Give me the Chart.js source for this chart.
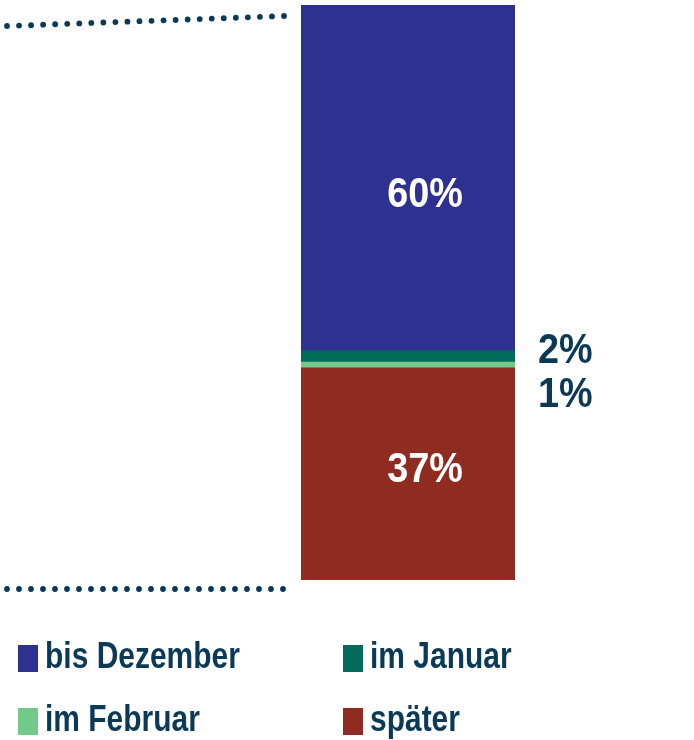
<!DOCTYPE html>
<html lang="de">
<head>
<meta charset="utf-8">
<title>Zeitpunkt</title>
<script src="https://cdn.jsdelivr.net/npm/chart.js@4.4.1/dist/chart.umd.min.js"></script>
<style>
    html, body { margin: 0; padding: 0; background: #ffffff; }
    #wrap { width: 694px; height: 740px; }
</style>
</head>
<body>
<div id="wrap"><canvas id="grafica" width="694" height="740"></canvas></div>
<script>
// Daten
const kategorien = ["Gesamt"];
const serien = ["bis Dezember", "im Januar", "im Februar", "später"];
const werte = [60, 2, 1, 37];
const farben = ["#2E3190", "#006B5B", "#73C98A", "#8F2B20"];

const textFarbe = "#0A3A55";
const schrift = "'Liberation Sans', Arial, sans-serif";
// vertikaler Versatz der Innenbeschriftung je Segment
const innenVersatz = [14, 0, 0, -7];

// Text etwas schmaler zeichnen (wie eine Condensed-Schrift)
function schmalerText(ctx, text, x, y, faktor, ausrichtung) {
    ctx.save();
    let breite = ctx.measureText(text).width * faktor;
    let startX = ausrichtung === "center" ? x - breite / 2 : x;
    ctx.translate(startX, y);
    ctx.scale(faktor, 1);
    ctx.textAlign = "left";
    ctx.fillText(text, 0, 0);
    ctx.restore();
}

// Punktlinien oben und unten links vom Balken
const punktLinien = {
    id: "punktLinien",
    afterDraw(chart) {
        const ctx = chart.ctx;
        const a = chart.chartArea;
        ctx.save();
        ctx.fillStyle = textFarbe;
        const linie = (x0, y0, x1, y1) => {
            const n = Math.round((x1 - x0) / 12);
            for (let i = 0; i <= n; i++) {
                const t = i / n;
                ctx.beginPath();
                ctx.arc(x0 + (x1 - x0) * t, y0 + (y1 - y0) * t, 2.9, 0, Math.PI * 2);
                ctx.fill();
            }
        };
        linie(a.left - 294, a.top + 21, a.left - 17, a.top + 11);
        linie(a.left - 294, a.bottom + 9, a.left - 18, a.bottom + 9);
        ctx.restore();
    }
};

// Prozentwerte: große Segmente innen, kleine rechts daneben
const beschriftung = {
    id: "beschriftung",
    afterDatasetsDraw(chart) {
        const ctx = chart.ctx;
        ctx.save();
        ctx.font = "bold 42px " + schrift;
        ctx.textBaseline = "alphabetic";
        let aussenY = null;
        chart.data.datasets.forEach((ds, i) => {
            const el = chart.getDatasetMeta(i).data[0];
            const mitte = (el.y + el.base) / 2;
            const text = ds.data[0] + "%";
            if (ds.data[0] >= 10) {
                ctx.fillStyle = "#ffffff";
                schmalerText(ctx, text, el.x + 17, mitte + innenVersatz[i] + 15, 0.9, "center");
            } else {
                ctx.fillStyle = textFarbe;
                const y = aussenY === null ? mitte - 7 : aussenY + 44;
                schmalerText(ctx, text, el.x + el.width / 2 + 23, y + 14, 0.9, "left");
                aussenY = y;
            }
        });
        ctx.restore();
    }
};

// Legende in zwei Spalten
const legende = {
    id: "legende",
    afterDraw(chart) {
        const ctx = chart.ctx;
        const spalten = [18, 343];
        const zeilen = [658, 721];
        ctx.save();
        ctx.font = "bold 37px " + schrift;
        ctx.textBaseline = "alphabetic";
        chart.data.datasets.forEach((ds, i) => {
            const x = spalten[i % 2];
            const y = zeilen[Math.floor(i / 2)];
            ctx.fillStyle = ds.backgroundColor;
            ctx.fillRect(x, y - 13, 20, 27);
            ctx.fillStyle = textFarbe;
            schmalerText(ctx, ds.label, x + 27, y + 10, 0.81, "left");
        });
        ctx.restore();
    }
};

new Chart(document.getElementById("grafica").getContext("2d"), {
    type: "bar",
    data: {
        labels: kategorien,
        datasets: serien.map((name, i) => ({
            label: name,
            data: [werte[i]],
            backgroundColor: farben[i],
            borderWidth: 0,
            barPercentage: 1,
            categoryPercentage: 1
        }))
    },
    options: {
        responsive: false,
        animation: false,
        layout: { padding: { left: 301, right: 179, top: 5, bottom: 160 } },
        scales: {
            x: { stacked: true, display: false },
            y: { stacked: true, display: false, min: 0, max: 100, reverse: true }
        },
        plugins: {
            legend: { display: false },
            tooltip: { enabled: false }
        }
    },
    plugins: [punktLinien, beschriftung, legende]
});
</script>
</body>
</html>
